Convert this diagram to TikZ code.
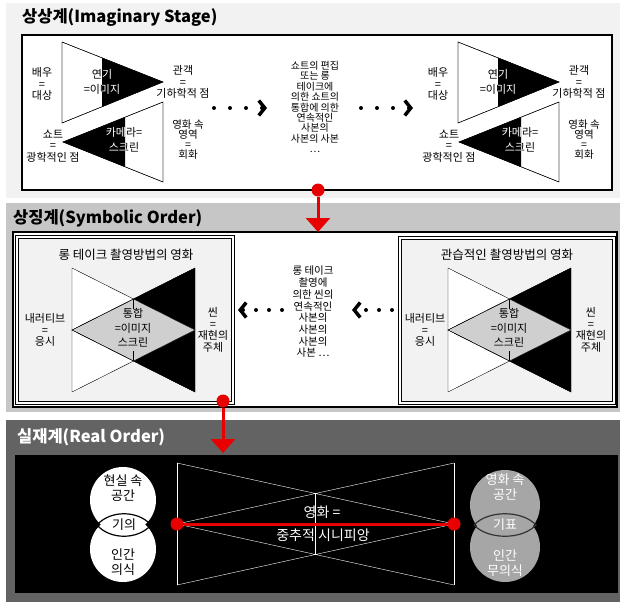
\documentclass[tikz,border=0pt]{standalone}
\usepackage{fontspec}
\setmainfont{Noto Sans CJK KR}
\usetikzlibrary{arrows.meta}

\definecolor{imagbg}{HTML}{F2F2F2}
\definecolor{symbg}{HTML}{C6C6C6}
\definecolor{realbg}{HTML}{636363}
\definecolor{boxbg}{HTML}{F2F2F2}
\definecolor{diamondgray}{HTML}{CFCFCF}
\definecolor{circgray}{HTML}{A6A6A6}
\definecolor{linkred}{HTML}{E80000}

\begin{document}
\begin{tikzpicture}[x=1pt, y=-1pt,
    lbl/.style={font=\fontsize{11}{11.5}\selectfont, align=center, inner sep=0pt},
    biglbl/.style={font=\fontsize{13}{15}\selectfont, align=center, inner sep=0pt},
    boxtitle/.style={font=\fontsize{12.5}{14}\selectfont, inner sep=0pt},
    stagetitle/.style={font=\fontsize{16.5}{18}\selectfont\bfseries, anchor=west, inner sep=0pt},
    dotlink/.style={line width=4pt, line cap=round, dash pattern=on 0pt off 16pt,
      -{Straight Barb[length=6pt, width=15pt, line width=3.5pt]}},
    redlink/.style={linkred, line width=3pt, -{Triangle[length=14pt, width=24pt]}},
    reddot/.style={circle, fill=linkred, minimum size=13pt, inner sep=0pt},
    frame/.style={draw, line width=1.5pt},
    subframe/.style={draw, fill=boxbg, double, double distance=1.5pt, line width=0.8pt},
  ]
  \useasboundingbox (0,0) rectangle (623,602);

  % panels
  \fill[imagbg] (6,3) rectangle (620,198);
  \fill[symbg] (6,203) rectangle (620,412);
  \fill[realbg] (6,420) rectangle (620,602);

  \node[stagetitle] (imagtitle) at (22,18) {상상계(Imaginary Stage)};
  \node[stagetitle] (symtitle) at (13,218) {상징계(Symbolic Order)};
  \node[stagetitle, white] (realtitle) at (17,437) {실재계(Real Order)};

  % ---------- imaginary stage ----------
  \filldraw[fill=white, frame] (22,35) rectangle (612,190);

  % left triangles
  \filldraw[fill=white] (62,42) -- (163,82) -- (62,123) -- cycle;
  \filldraw[fill=white] (163,102) -- (63,142) -- (163,182) -- cycle;
  \node[lbl] (actor1) at (42,84) {배우\\=\\대상};
  \node[lbl] (act1) at (102,82) {연기\\[4pt]=이미지};
  \node[lbl] (viewer1) at (183,82) {관객\\=\\기하학적 점};
  \node[lbl] (shot1) at (53,146) {쇼트\\=\\광학적인 점};
  \node[lbl] (camera1) at (124,140) {카메라=\\[3pt]스크린};
  \node[lbl, font=\fontsize{10.5}{10}\selectfont] (painting1) at (188,140) {영화 속\\영역\\=\\회화};
  \begin{scope}
    \clip (62,42) -- (163,82) -- (62,123) -- cycle;
    \clip (102,30) rectangle (170,130);
    \fill (40,30) rectangle (170,130);
    \node[lbl, white] at (act1) {연기\\[4pt]=이미지};
  \end{scope}
  \begin{scope}
    \clip (163,102) -- (63,142) -- (163,182) -- cycle;
    \clip (55,95) rectangle (125,190);
    \fill (55,95) rectangle (170,190);
    \node[lbl, white] at (camera1) {카메라=\\[3pt]스크린};
  \end{scope}
  \draw (62,42) -- (163,82) -- (62,123) -- cycle;
  \draw (163,102) -- (63,142) -- (163,182) -- cycle;

  % right triangles
  \filldraw[fill=white] (458,42) -- (559,82) -- (458,123) -- cycle;
  \filldraw[fill=white] (559,102) -- (459,142) -- (559,182) -- cycle;
  \node[lbl] (actor2) at (438,84) {배우\\=\\대상};
  \node[lbl] (act2) at (498,82) {연기\\[4pt]=이미지};
  \node[lbl] (viewer2) at (579,82) {관객\\=\\기하학적 점};
  \node[lbl] (shot2) at (449,146) {쇼트\\=\\광학적인 점};
  \node[lbl] (camera2) at (520,140) {카메라=\\[3pt]스크린};
  \node[lbl, font=\fontsize{10.5}{10}\selectfont] (painting2) at (584,140) {영화 속\\영역\\=\\회화};
  \begin{scope}
    \clip (458,42) -- (559,82) -- (458,123) -- cycle;
    \clip (498,30) rectangle (566,130);
    \fill (436,30) rectangle (566,130);
    \node[lbl, white] at (act2) {연기\\[4pt]=이미지};
  \end{scope}
  \begin{scope}
    \clip (559,102) -- (459,142) -- (559,182) -- cycle;
    \clip (451,95) rectangle (521,190);
    \fill (451,95) rectangle (566,190);
    \node[lbl, white] at (camera2) {카메라=\\[3pt]스크린};
  \end{scope}
  \draw (458,42) -- (559,82) -- (458,123) -- cycle;
  \draw (559,102) -- (459,142) -- (559,182) -- cycle;

  \node[lbl, font=\fontsize{10}{10.4}\selectfont] (edit) at (315,107) {쇼트의 편집\\또는 롱\\테이크에\\의한 쇼트의\\통합에 의한\\연속적인\\사본의\\사본의 사본\\…};

  \coordinate (imagA) at (214,108);
  \coordinate (imagB) at (267,108);
  \coordinate (imagC) at (361,108);
  \coordinate (imagD) at (413,108);
  \draw[dotlink] (imagA) -- (imagB);
  \draw[dotlink] (imagC) -- (imagD);

  % ---------- symbolic order ----------
  \filldraw[fill=white, frame] (13,232) rectangle (617,407);
  \draw[subframe] (17,237) rectangle (233,403);
  \draw[subframe] (400,238) rectangle (614,403);

  \node[boxtitle] (longtake) at (126,255) {롱 테이크 촬영방법의 영화};
  \node[boxtitle] (classic) at (507,255) {관습적인 촬영방법의 영화};

  % left hourglass
  \filldraw[fill=black] (195,268) -- (72,330) -- (195,392) -- cycle;
  \filldraw[fill=white] (72,268) -- (195,330) -- (72,392) -- cycle;
  \filldraw[fill=diamondgray] (72,330) -- (133.5,299) -- (195,330) -- (133.5,361) -- cycle;
  \draw (195,268) -- (72,330) -- (195,392);
  \draw (133.5,299) -- (133.5,309) (133.5,351) -- (133.5,361);
  \node[lbl] (merge1) at (133,328) {통합\\[3pt]=이미지\\[3pt]스크린};
  \node[lbl] (narr1) at (45,330) {내러티브\\=\\응시};
  \node[lbl] (scene1) at (213,330) {씬\\=\\재현의\\주체};

  % right hourglass
  \filldraw[fill=black] (571,268) -- (448,330) -- (571,392) -- cycle;
  \filldraw[fill=white] (448,268) -- (571,330) -- (448,392) -- cycle;
  \filldraw[fill=diamondgray] (448,330) -- (509.5,299) -- (571,330) -- (509.5,361) -- cycle;
  \draw (571,268) -- (448,330) -- (571,392);
  \draw (509.5,299) -- (509.5,309) (509.5,351) -- (509.5,361);
  \node[lbl] (merge2) at (509,328) {통합\\[3pt]=이미지\\[3pt]스크린};
  \node[lbl] (narr2) at (425,330) {내러티브\\=\\응시};
  \node[lbl] (scene2) at (591,330) {씬\\=\\재현의\\주체};

  \node[lbl, font=\fontsize{10.5}{11.7}\selectfont] (copies) at (313,312) {롱 테이크\\촬영에\\의한 씬의\\연속적인\\사본의\\사본의\\사본의\\사본 …};

  \coordinate (symA) at (282,310);
  \coordinate (symB) at (238,310);
  \coordinate (symC) at (392,310);
  \coordinate (symD) at (352,310);
  \draw[dotlink, dash pattern=on 0pt off 13pt] (symA) -- (symB);
  \draw[dotlink, dash pattern=on 0pt off 13pt] (symC) -- (symD);

  % ---------- real order ----------
  \fill[black] (15,455) rectangle (618,593);

  % left circles
  \fill[white] (123,500) circle (33);
  \fill[white] (123,549) circle (33);
  \draw[line width=1.2pt] (97,525) .. controls (110,510) and (138,510) .. (151,525)
    .. controls (138,540) and (110,540) .. (97,525);
  \node[biglbl] (realspace) at (123,488) {현실 속\\공간};
  \node[biglbl] (signified) at (124,525) {기의};
  \node[biglbl] (conscious) at (123,562) {인간\\의식};

  % right circles
  \fill[circgray] (505,505) circle (35);
  \fill[circgray] (505,547) circle (35);
  \draw[line width=1.2pt, black!80] (474,525) .. controls (488,510) and (522,510) .. (536,525)
    .. controls (522,540) and (488,540) .. (474,525);
  \node[biglbl, white] (filmspace) at (505,487) {영화 속\\공간};
  \node[biglbl, white] (signifier) at (505,525) {기표};
  \node[biglbl, white] (unconscious) at (505,563) {인간\\무의식};

  % bow tie
  \draw[white] (177,463) -- (177,585);
  \draw[white] (454,463) -- (454,585);
  \draw[white] (177,463) -- (454,524) (177,524) -- (454,463);
  \draw[white] (177,585) -- (454,524) (177,524) -- (454,585);
  \draw[white] (315,493) -- (315,555);

  \node[reddot] (leftend) at (177,524) {};
  \node[reddot] (rightend) at (454,524) {};
  \draw[linkred, line width=3pt] (leftend) -- (rightend);
  \node[biglbl, white, font=\fontsize{14}{15}\selectfont] (film) at (322,512) {영화 =};
  \node[biglbl, white, font=\fontsize{14}{15}\selectfont] (quilt) at (323,535) {중추적 시니피앙};

  % links between the stages
  \node[reddot] (imagdot) at (318,190) {};
  \coordinate (symtop) at (318,232);
  \draw[redlink] (imagdot) -- (symtop);
  \node[reddot] (symdot) at (223,401) {};
  \coordinate (realtop) at (223,453);
  \draw[redlink] (symdot) -- (realtop);
\end{tikzpicture}
\end{document}
